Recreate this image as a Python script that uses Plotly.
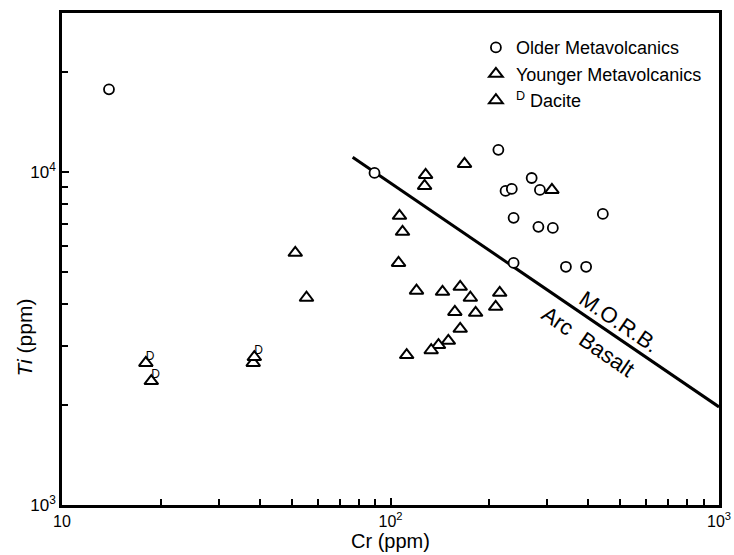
import math
import plotly.graph_objects as go

# Older Metavolcanics (circles)
older_cr = [13.9, 89.4, 213, 269, 224, 234, 285, 237, 443, 282, 312, 237, 342, 394]
older_ti = [17700, 9930, 11650, 9590, 8770, 8890, 8830, 7280, 7480, 6840, 6790, 5330, 5190, 5190]

# Younger Metavolcanics (triangles)
younger_cr = [127.9, 127, 168, 106.5, 108.8, 105.8, 310, 120, 144, 163, 175, 215,
              157, 181.6, 209, 163, 150, 140, 133, 112, 51.3, 55.5, 38.2]
younger_ti = [9795, 9080, 10570, 7380, 6610, 5330, 8830, 4400, 4365, 4520, 4190, 4335,
              3800, 3775, 3935, 3380, 3110, 3020, 2915, 2820, 5715, 4190, 2670]

# Dacite (triangles marked D)
dacite_cr = [18.0, 18.7, 38.5]
dacite_ti = [2670, 2355, 2780]
dacite_mark = ["D", "D", "D"]

# MORB / Arc basalt discriminant line
morb_cr = [76.7, 1000]
morb_ti = [11070, 1970]

x_ticks = [10, 100, 1000]
x_ticktext = ["10", "10<sup>2</sup>", "10<sup>3</sup>"]
x_minor = [20, 30, 40, 50, 60, 70, 80, 90, 200, 300, 400, 500, 600, 700, 800, 900]
y_ticks = [1000, 10000]
y_ticktext = ["10<sup>3</sup>", "10<sup>4</sup>"]
y_minor = [2000, 3000, 4000, 5000, 6000, 7000, 8000, 9000, 20000]

FONT = "Liberation Sans"

fig = go.Figure()
fig.add_trace(go.Scatter(
    x=morb_cr, y=morb_ti, mode="lines", showlegend=False,
    line=dict(color="black", width=3), hoverinfo="skip"))
fig.add_trace(go.Scatter(
    x=older_cr, y=older_ti, mode="markers", name="Older Metavolcanics",
    marker=dict(symbol="circle", size=10, color="white",
                line=dict(color="black", width=1.8))))
fig.add_trace(go.Scatter(
    x=younger_cr, y=younger_ti, mode="markers", name="Younger Metavolcanics",
    marker=dict(symbol="triangle-up", size=12, color="white",
                line=dict(color="black", width=2))))
fig.add_trace(go.Scatter(
    x=dacite_cr, y=dacite_ti, mode="markers", name="<sup>D</sup> Dacite",
    marker=dict(symbol="triangle-up", size=12, color="white",
                line=dict(color="black", width=2))))
fig.add_trace(go.Scatter(
    x=dacite_cr, y=dacite_ti, mode="text", text=dacite_mark, showlegend=False,
    textposition="top right", textfont=dict(family=FONT, size=12, color="black"),
    hoverinfo="skip"))

angle = 34.4
fig.add_annotation(x=math.log10(495), y=math.log10(3560), text="M.O.R.B.",
                   showarrow=False, textangle=angle,
                   font=dict(family=FONT, size=22, color="black"))
fig.add_annotation(x=math.log10(399), y=math.log10(3100), text="Arc  Basalt",
                   showarrow=False, textangle=angle,
                   font=dict(family=FONT, size=22, color="black"))
fig.add_annotation(xref="paper", yref="paper", x=-0.079, y=(505 - 338) / 492,
                   text="<i>Ti</i> (ppm)", showarrow=False, textangle=-90,
                   font=dict(family=FONT, size=21, color="black"))

fig.update_xaxes(
    type="log", range=[1, 3], tickmode="array", tickvals=x_ticks, ticktext=x_ticktext,
    ticks="inside", ticklen=7, tickwidth=1.5, tickcolor="black",
    minor=dict(tickmode="array", tickvals=x_minor, ticks="inside", ticklen=6,
               tickwidth=1.5, tickcolor="black", showgrid=False),
    showline=True, linewidth=2.5, linecolor="black", mirror=True,
    showgrid=False, zeroline=False,
    tickfont=dict(family=FONT, size=16, color="black"),
    title=dict(text="Cr (ppm)", font=dict(family=FONT, size=20, color="black"), standoff=6),
    automargin=False)
fig.update_yaxes(
    type="log", range=[3, math.log10(30000)], tickmode="array", tickvals=y_ticks,
    ticktext=y_ticktext,
    ticks="inside", ticklen=7, tickwidth=1.5, tickcolor="black",
    minor=dict(tickmode="array", tickvals=y_minor, ticks="inside", ticklen=6,
               tickwidth=1.5, tickcolor="black", showgrid=False),
    showline=True, linewidth=2.5, linecolor="black", mirror=True,
    showgrid=False, zeroline=False,
    tickfont=dict(family=FONT, size=17, color="black"),
    automargin=False)

fig.update_layout(
    width=734, height=555,
    margin=dict(l=62, r=15, t=13, b=50),
    paper_bgcolor="white", plot_bgcolor="white",
    font=dict(family=FONT, color="black"),
    legend=dict(x=0.63, y=0.967, xanchor="left", yanchor="top",
                bgcolor="rgba(0,0,0,0)",
                font=dict(family=FONT, size=18, color="black")),
)

fig.write_html("out.html")
